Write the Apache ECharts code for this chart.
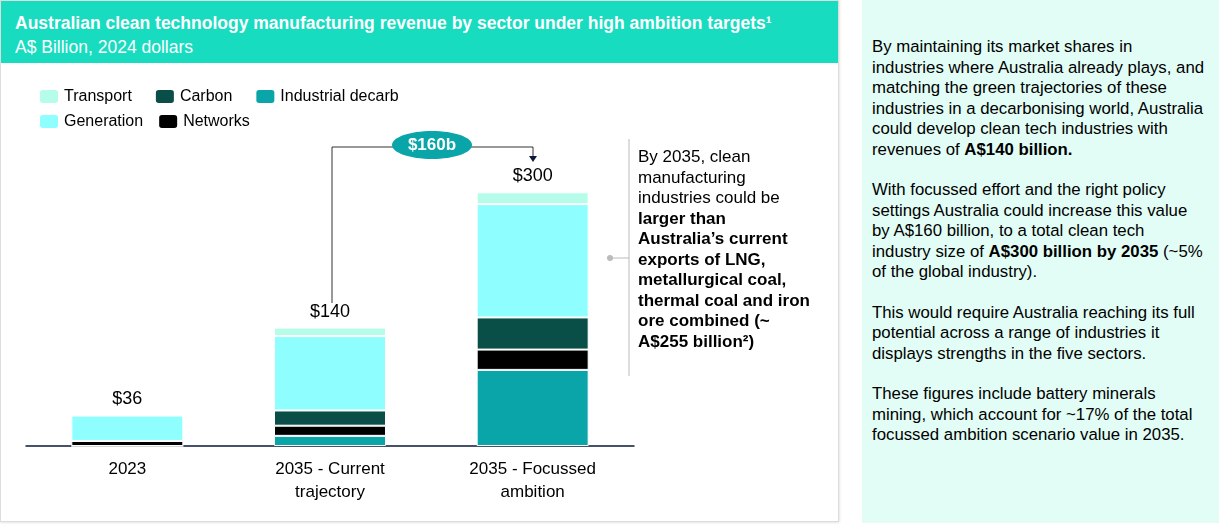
<!DOCTYPE html>
<html><head><meta charset="utf-8">
<script src="https://cdn.jsdelivr.net/npm/echarts@6/dist/echarts.min.js"></script>
<style>
body{margin:0;background:#fff;font-family:"Liberation Sans",Arial,sans-serif;}
#wrap{position:relative;width:1224px;height:530px;}
#left{position:absolute;left:0;top:0;width:837px;height:520px;border:1px solid #ddd;box-shadow:0 0 3px #ccc;}
#head{position:absolute;left:0;top:0;width:837px;height:62px;background:#17dcc0;color:#fff;}
#head .t{position:absolute;left:14px;top:12px;font-size:17.5px;font-weight:bold;}
#head .s{position:absolute;left:14px;top:36px;font-size:17.5px;}
#chart{position:absolute;left:0;top:62px;width:837px;height:458px;}
#note{position:absolute;left:637px;top:146px;width:176px;font-size:17px;line-height:20.5px;color:#000;}
#right{position:absolute;left:862px;top:0;width:357px;height:523px;background:#e2fdf6;}
#right p{margin:0 0 20px 0;font-size:16.8px;line-height:20.5px;color:#000;}
#rt{position:absolute;left:10px;top:37px;width:335px;}
</style></head><body>
<div id="wrap">
<div id="left">
<div id="head"><div class="t">Australian clean technology manufacturing revenue by sector under high ambition targets¹</div><div class="s">A$ Billion, 2024 dollars</div></div>
<div id="chart"></div>
<div id="note">By 2035, clean manufacturing industries could be <b>larger than Australia’s current exports of LNG, metallurgical coal, thermal coal and iron ore combined (~ A$255 billion²)</b></div>
</div>
<div id="right"><div id="rt">
<p>By maintaining its market shares in industries where Australia already plays, and matching the green trajectories of these industries in a decarbonising world, Australia could develop clean tech industries with revenues of <b>A$140 billion.</b></p>
<p>With focussed effort and the right policy settings Australia could increase this value by A$160 billion, to a total clean tech industry size of <b>A$300 billion by 2035</b> (~5% of the global industry).</p>
<p>This would require Australia reaching its full potential across a range of industries it displays strengths in the five sectors.</p>
<p>These figures include battery minerals mining, which account for ~17% of the total focussed ambition scenario value in 2035.</p>
</div></div>
</div>
<script>
var categories = ['2023', '2035 - Current\ntrajectory', '2035 - Focussed\nambition'];
var industrialDecarb = [0, 12, 90];
var networks = [6, 12, 24];
var carbon = [0, 18, 38];
var generation = [30, 88, 134];
var transport = [0, 10, 14];
var totals = ['$36', '$140', '$300'];

var chart = echarts.init(document.getElementById('chart'));
function seg(name, data, color) {
  return {name: name, type: 'bar', stack: 'a', data: data, barWidth: 112,
    itemStyle: {color: color, borderColor: '#fff', borderWidth: 1}};
}
var series = [
  seg('Industrial decarb', industrialDecarb, '#0aa5a8'),
  seg('Networks', networks, '#000000'),
  seg('Carbon', carbon, '#0a4f47'),
  seg('Generation', generation, '#8ffeff'),
  seg('Transport', transport, '#b5fde9')
];
var last = series[series.length - 1];
last.label = {show: true, position: 'top', distance: 7, fontSize: 18, color: '#000',
  formatter: function (p) { return totals[p.dataIndex]; }};
chart.setOption({
  animation: false,
  textStyle: {fontFamily: 'Liberation Sans'},
  legend: [
    {data: ['Transport', 'Carbon', 'Industrial decarb'], left: 32, top: 20, itemWidth: 20, itemHeight: 15, itemGap: 22, textStyle: {fontSize: 16, color: '#000'}},
    {data: ['Generation', 'Networks'], left: 32, top: 45, itemWidth: 20, itemHeight: 15, itemGap: 14, textStyle: {fontSize: 16, color: '#000'}}
  ],
  grid: {left: 25, width: 608, top: 87, bottom: 75},
  xAxis: {type: 'category', data: categories,
    axisLine: {lineStyle: {color: '#0b1a3a', width: 1.5}}, axisTick: {show: false},
    axisLabel: {fontSize: 17, color: '#000', margin: 12, lineHeight: 23}},
  yAxis: {type: 'value', min: 0, max: 350, show: false, splitLine: {show: false}},
  series: series,
  graphic: [
    {type: 'polyline', shape: {points: [[331, 240], [331, 84], [532, 84], [532, 97]]}, style: {stroke: '#333', lineWidth: 1, fill: null}},
    {type: 'polygon', shape: {points: [[528, 93], [536, 93], [532, 99]]}, style: {fill: '#0b1a3a'}},
    {type: 'ellipse', shape: {cx: 431, cy: 82, rx: 40, ry: 14}, style: {fill: '#0aa5a8'}},
    {type: 'text', x: 431, y: 82, style: {text: '$160b', fill: '#fff', font: 'bold 17px Liberation Sans', align: 'center', verticalAlign: 'middle'}},
    {type: 'line', shape: {x1: 628, y1: 76, x2: 628, y2: 313}, style: {stroke: '#bbb', lineWidth: 1}},
    {type: 'line', shape: {x1: 609, y1: 195, x2: 628, y2: 195}, style: {stroke: '#bbb', lineWidth: 1}},
    {type: 'circle', shape: {cx: 609, cy: 195, r: 3}, style: {fill: '#bbb'}}
  ]
});
</script>
</body></html>
